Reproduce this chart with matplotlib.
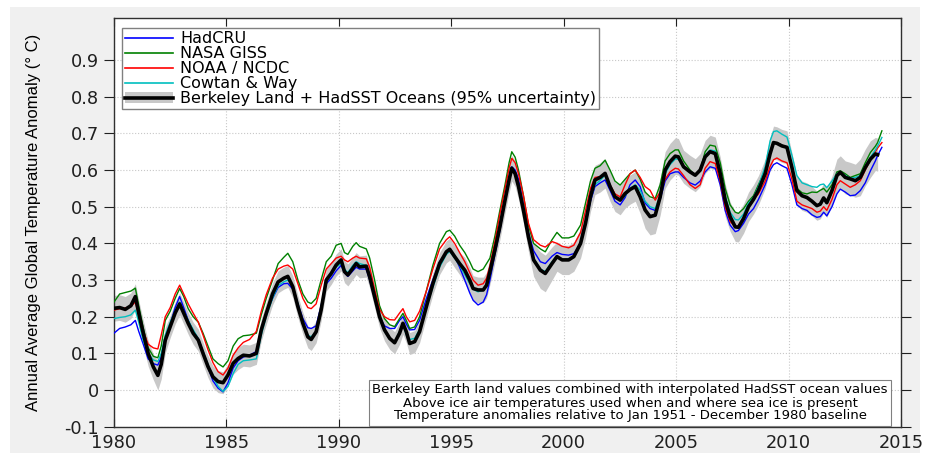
import matplotlib
matplotlib.use("Agg")
import matplotlib.pyplot as plt
from matplotlib.patches import Patch, Rectangle
from matplotlib.lines import Line2D
from matplotlib import font_manager

# ---------------- data ----------------
years = [
    1980.00, 1980.25, 1980.50, 1980.75, 1980.95, 1981.10, 1981.30, 1981.52, 1981.75, 1981.95,
    1982.10, 1982.28, 1982.50, 1982.72, 1982.92, 1983.10, 1983.30, 1983.52, 1983.75, 1983.96,
    1984.18, 1984.40, 1984.63, 1984.85, 1985.07, 1985.30, 1985.52, 1985.75, 1986.03, 1986.33,
    1986.55, 1986.77, 1987.05, 1987.30, 1987.55, 1987.73, 1987.95, 1988.18, 1988.40, 1988.62,
    1988.77, 1988.99, 1989.21, 1989.44, 1989.66, 1989.88, 1990.10, 1990.25, 1990.40, 1990.62,
    1990.77, 1990.92, 1991.22, 1991.37, 1991.59, 1991.81, 1992.03, 1992.26, 1992.48, 1992.70,
    1992.85, 1993.00, 1993.15, 1993.37, 1993.59, 1993.89, 1994.18, 1994.48, 1994.78, 1994.93,
    1995.15, 1995.37, 1995.60, 1995.82, 1995.97, 1996.19, 1996.42, 1996.57, 1996.72, 1996.94,
    1997.16, 1997.39, 1997.57, 1997.69, 1997.84, 1997.99, 1998.21, 1998.43, 1998.66, 1998.96,
    1999.18, 1999.48, 1999.70, 1999.93, 2000.22, 2000.45, 2000.75, 2000.97, 2001.19, 2001.39,
    2001.62, 2001.84, 2002.06, 2002.28, 2002.51, 2002.73, 2002.95, 2003.18, 2003.40, 2003.62,
    2003.84, 2004.07, 2004.29, 2004.51, 2004.73, 2004.96, 2005.10, 2005.33, 2005.62, 2005.85,
    2006.07, 2006.29, 2006.51, 2006.74, 2006.96, 2007.18, 2007.40, 2007.63, 2007.77, 2008.00,
    2008.22, 2008.44, 2008.66, 2008.96, 2009.18, 2009.33, 2009.48, 2009.70, 2009.93, 2010.15,
    2010.37, 2010.60, 2010.82, 2011.04, 2011.26, 2011.41, 2011.56, 2011.70, 2011.93, 2012.15,
    2012.30, 2012.52, 2012.74, 2012.97, 2013.19, 2013.41, 2013.64, 2013.86, 2013.96,
]
years_ext = years + [2014.15]   # the four other records run a little further

berkeley = [
    .223, .225, .220, .230, .255, .210, .155, .100, .063, .040,
    .070, .136, .173, .210, .235, .210, .182, .155, .136, .100,
    .064, .036, .023, .020, .041, .073, .086, .095, .093, .100,
    .164, .209, .262, .295, .305, .310, .282, .227, .182, .145,
    .138, .159, .218, .300, .318, .341, .355, .323, .314, .332,
    .345, .336, .338, .309, .255, .200, .164, .141, .129, .155,
    .182, .159, .127, .132, .159, .227, .290, .345, .377, .384,
    .364, .345, .327, .300, .277, .273, .273, .286, .323, .382,
    .445, .518, .573, .605, .590, .555, .490, .418, .355, .327,
    .318, .345, .364, .355, .355, .364, .400, .455, .527, .573,
    .580, .591, .555, .527, .518, .536, .547, .555, .527, .491,
    .473, .477, .527, .600, .623, .638, .636, .609, .595, .586,
    .600, .636, .650, .645, .591, .518, .473, .445, .444, .468,
    .500, .520, .545, .590, .645, .675, .673, .666, .662, .607,
    .544, .530, .525, .515, .503, .507, .524, .511, .544, .585,
    .594, .580, .576, .571, .580, .607, .630, .644, .642,
]
berkeley_unc = [
    .035, .035, .035, .035, .035, .035, .035, .035, .035, .040,
    .040, .035, .030, .030, .030, .030, .030, .030, .030, .030,
    .030, .030, .030, .030, .030, .030, .030, .030, .030, .030,
    .030, .030, .030, .030, .030, .030, .030, .030, .030, .030,
    .030, .030, .030, .030, .030, .030, .030, .030, .030, .030,
    .030, .030, .030, .030, .030, .030, .030, .030, .030, .030,
    .030, .030, .030, .030, .030, .030, .030, .030, .030, .030,
    .030, .030, .035, .035, .035, .035, .035, .035, .035, .035,
    .035, .035, .035, .035, .035, .035, .035, .040, .045, .050,
    .050, .045, .040, .040, .040, .040, .040, .040, .040, .040,
    .040, .040, .040, .040, .040, .040, .040, .040, .045, .050,
    .050, .050, .050, .050, .050, .050, .050, .045, .045, .045,
    .045, .045, .045, .045, .045, .045, .040, .040, .040, .040,
    .040, .040, .040, .040, .045, .045, .045, .045, .045, .040,
    .040, .040, .040, .040, .040, .040, .040, .040, .040, .045,
    .045, .045, .045, .045, .050, .050, .050, .045, .045,
]
giss = [
    .240, .262, .266, .270, .278, .230, .170, .115, .092, .088,
    .120, .190, .215, .250, .277, .255, .222, .200, .185, .155,
    .120, .085, .072, .063, .080, .120, .140, .148, .150, .155,
    .205, .250, .300, .345, .362, .373, .350, .300, .262, .240,
    .236, .250, .300, .350, .365, .395, .400, .375, .370, .392,
    .402, .392, .385, .360, .300, .230, .195, .178, .173, .195,
    .209, .190, .168, .172, .200, .270, .340, .400, .432, .436,
    .420, .395, .375, .350, .330, .323, .330, .345, .360, .420,
    .490, .560, .620, .650, .635, .600, .530, .450, .400, .385,
    .377, .410, .430, .415, .415, .420, .450, .510, .570, .605,
    .612, .627, .600, .570, .559, .575, .590, .600, .575, .540,
    .527, .523, .560, .625, .645, .655, .655, .625, .600, .586,
    .600, .650, .668, .665, .620, .550, .505, .485, .482, .495,
    .515, .530, .560, .600, .650, .672, .675, .668, .662, .610,
    .550, .538, .535, .540, .539, .545, .550, .540, .560, .595,
    .598, .590, .580, .585, .590, .620, .648, .665, .675, .707,
]
noaa = [
    .218, .222, .224, .228, .240, .205, .160, .125, .115, .112,
    .150, .200, .225, .262, .286, .262, .235, .210, .185, .150,
    .110, .075, .050, .041, .060, .095, .115, .130, .138, .160,
    .215, .260, .305, .330, .338, .341, .330, .290, .250, .225,
    .222, .235, .285, .330, .345, .360, .365, .355, .350, .360,
    .365, .360, .358, .335, .275, .220, .200, .192, .191, .210,
    .222, .200, .186, .190, .215, .270, .330, .385, .410, .418,
    .400, .375, .350, .320, .300, .286, .290, .305, .340, .405,
    .480, .550, .605, .632, .620, .590, .530, .455, .410, .395,
    .390, .405, .400, .392, .388, .395, .430, .490, .550, .580,
    .582, .586, .560, .535, .527, .560, .590, .600, .580, .555,
    .545, .518, .540, .575, .595, .605, .603, .585, .560, .550,
    .560, .605, .623, .618, .570, .500, .460, .445, .448, .470,
    .505, .520, .535, .570, .610, .628, .633, .625, .620, .575,
    .515, .505, .500, .495, .485, .488, .500, .490, .520, .560,
    .571, .562, .553, .560, .571, .600, .628, .650, .660, .675,
]
cowtan = [
    .195, .198, .200, .205, .218, .185, .135, .100, .082, .078,
    .100, .150, .185, .215, .240, .215, .190, .165, .140, .105,
    .070, .035, .010, -.004, .010, .045, .070, .080, .082, .085,
    .150, .200, .250, .285, .295, .300, .285, .235, .185, .150,
    .145, .160, .225, .295, .315, .335, .345, .330, .320, .340,
    .350, .345, .340, .310, .255, .195, .160, .138, .132, .160,
    .180, .150, .138, .141, .165, .225, .280, .335, .370, .378,
    .360, .340, .315, .290, .275, .268, .272, .285, .315, .375,
    .440, .515, .570, .605, .590, .560, .495, .420, .360, .330,
    .323, .350, .365, .355, .358, .365, .400, .455, .520, .560,
    .572, .586, .560, .528, .518, .530, .550, .560, .545, .515,
    .500, .495, .530, .590, .615, .630, .630, .610, .595, .585,
    .600, .640, .655, .652, .600, .530, .485, .465, .464, .480,
    .510, .525, .555, .610, .680, .705, .707, .698, .690, .640,
    .585, .565, .560, .555, .553, .560, .562, .552, .570, .590,
    .594, .585, .578, .580, .585, .610, .635, .655, .665, .689,
]
hadcru = [
    .155, .168, .172, .178, .190, .160, .125, .085, .072, .068,
    .090, .140, .180, .225, .255, .225, .190, .160, .140, .105,
    .062, .025, .005, -.005, .020, .060, .080, .090, .095, .105,
    .160, .210, .250, .280, .290, .291, .275, .235, .195, .170,
    .168, .175, .230, .290, .305, .325, .340, .320, .310, .325,
    .335, .330, .330, .300, .250, .200, .175, .168, .168, .190,
    .200, .180, .164, .165, .190, .250, .300, .350, .375, .382,
    .365, .335, .300, .265, .245, .232, .240, .260, .300, .370,
    .435, .515, .580, .609, .600, .575, .505, .430, .380, .350,
    .345, .365, .375, .370, .368, .372, .400, .450, .515, .555,
    .565, .573, .545, .515, .505, .525, .560, .573, .555, .510,
    .495, .490, .520, .570, .590, .595, .595, .580, .565, .559,
    .570, .595, .609, .605, .560, .490, .450, .432, .435, .455,
    .480, .495, .520, .560, .600, .615, .620, .612, .605, .560,
    .505, .495, .490, .478, .471, .473, .485, .475, .500, .535,
    .548, .540, .530, .532, .544, .565, .598, .625, .640, .662,
]

labels = ["HadCRU", "NASA GISS", "NOAA / NCDC", "Cowtan & Way",
          "Berkeley Land + HadSST Oceans (95% uncertainty)"]
colors = ["#0000ff", "#008000", "#ff0000", "#00bfbf"]
xticks = [1980, 1985, 1990, 1995, 2000, 2005, 2010, 2015]
yticks = [-0.1, 0, 0.1, 0.2, 0.3, 0.4, 0.5, 0.6, 0.7, 0.8, 0.9]
ytick_labels = ["-0.1", "0", "0.1", "0.2", "0.3", "0.4", "0.5", "0.6", "0.7", "0.8", "0.9"]
ylabel = "Annual Average Global Temperature Anomaly (\u00b0 C)"
note = ("Berkeley Earth land values combined with interpolated HadSST ocean values\n"
        "Above ice air temperatures used when and where sea ice is present\n"
        "Temperature anomalies relative to Jan 1951 - December 1980 baseline")

# ---------------- figure ----------------
plt.rcParams["font.family"] = ["DejaVu Sans"]
W, H = 932, 453
fig = plt.figure(figsize=(W / 100, H / 100), dpi=100, facecolor="white")
bg = Rectangle((10 / W, 0), (920 - 10) / W, (H - 7) / H,
               transform=fig.transFigure, facecolor="#f0f0f0",
               edgecolor="none", zorder=-10)
fig.add_artist(bg)

ax = fig.add_axes([114 / W, 1 - 426.7 / H, 787 / W, 408.4 / H])
ax.set_zorder(1)
ax.set_facecolor("white")

lo = [b - u for b, u in zip(berkeley, berkeley_unc)]
hi = [b + u for b, u in zip(berkeley, berkeley_unc)]
ax.fill_between(years, lo, hi, color="#c8c8c8", lw=0, zorder=2)

for series, col in zip([hadcru, giss, noaa, cowtan], colors):
    ax.plot(years_ext, series, color=col, lw=1.0, zorder=3)
ax.plot(years, berkeley, color="black", lw=2.6, zorder=4)

ax.set_xlim(1980, 2015)
ax.set_ylim(-0.1, 1.014)
ax.set_xticks(xticks)
ax.set_yticks(yticks)
ax.set_yticklabels(ytick_labels)
ax.tick_params(axis="both", labelsize=12.8, colors="#202020")
ax.tick_params(axis="x", direction="in", top=True, length=6, pad=5)
ax.tick_params(axis="y", direction="out", right=True, length=7, pad=4)
ax.grid(True, color="#c8c8c8", linestyle=":", linewidth=0.8, zorder=1)
ax.set_axisbelow(True)
for s in ax.spines.values():
    s.set_color("#303030")
    s.set_linewidth(1.0)

# y label: prefer a narrow face if one is installed
names = {f.name for f in font_manager.fontManager.ttflist}
if "Liberation Sans Narrow" in names:
    ax.set_ylabel(ylabel, family="Liberation Sans Narrow", fontsize=14)
else:
    ax.set_ylabel(ylabel, family="Liberation Sans", fontsize=12)
ax.yaxis.set_label_coords((41 - 114) / 787, 0.5)

handles = [Line2D([], [], color=c, lw=1.2) for c in colors]
handles.append((Patch(facecolor="#c8c8c8", edgecolor="none"),
                Line2D([], [], color="black", lw=2.6)))
leg = ax.legend(handles, labels, loc="upper left",
                bbox_to_anchor=((122 - 114) / 787, (426.7 - 28) / 408.4),
                fontsize=11.5, frameon=True, fancybox=False, framealpha=1,
                edgecolor="#808080", handlelength=3.0, handletextpad=0.45,
                labelspacing=0.0, borderpad=0.2, borderaxespad=0)
leg.get_frame().set_linewidth(1.0)
leg.set_zorder(6)

ax.text((630 - 114) / 787, (426.7 - 403) / 408.4, note, transform=ax.transAxes,
        ha="center", va="center", fontsize=9.5, linespacing=1.0, zorder=6,
        bbox=dict(boxstyle="square,pad=0.25", facecolor="white",
                  edgecolor="#808080", linewidth=0.8))

fig.savefig("out.png", dpi=100, facecolor=fig.get_facecolor())
